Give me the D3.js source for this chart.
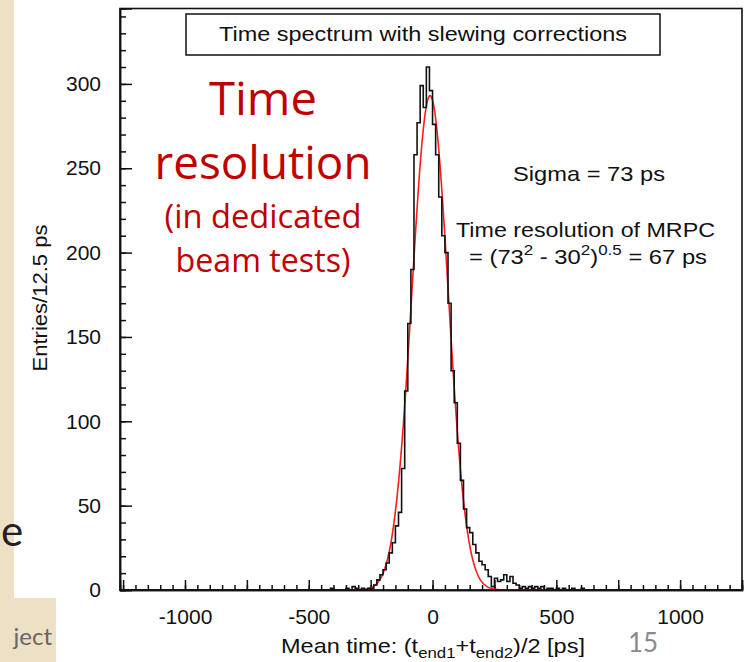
<!DOCTYPE html>
<html lang="en">
<head>
<meta charset="UTF-8">
<title>Time spectrum with slewing corrections</title>
<script src="https://cdn.jsdelivr.net/npm/d3@7"></script>
<style>
  body { margin: 0; background: #fff; }
  svg text { font-family: "Liberation Sans", Arial, sans-serif; fill: #111; }
  .axis path, .axis line { stroke: #111; stroke-width: 1.5; }
  .axis text { font-size: 21px; }
  .red-note { font-family: "Open Sans", sans-serif !important; fill: #c00000 !important; }
</style>
</head>
<body>
<div id="chart"></div>
<script>
var binWidth = 12.5;
var firstEdge = -425;
var counts = [
  0, 1, 0, 0, 0, 0, 1, 0, 2, 1, 0, 1, 0, 1,          // -425 .. -262.5
  1, 3, 6, 9, 12, 16, 22, 28, 38, 46, 72, 118,       // -250 .. -112.5
  158, 190, 258, 277, 299, 286, 310, 296,            // -100 .. -12.5
  276, 258, 233, 210, 200, 170, 130, 111, 87, 65,    // 0 .. 112.5
  48, 37, 34, 27, 22, 17, 15, 12, 8, 2,              // 125 .. 237.5
  7, 5, 6, 9, 5, 8, 4, 3, 1, 2, 1, 2, 1, 2, 1, 2,    // 250 .. 437.5
  0, 1, 1, 0, 1, 0, 1, 0, 0, 1, 0, 0, 1              // 450 .. 600
];

// gaussian fit shown in red
var fitAmp = 293;
var fitMean = -10;
var fitSigma = 73;

var xDomain = [-1262.5, 1250];
var yDomain = [0, 344.7];
var xLabels = [-1000, -500, 0, 500, 1000];
var yLabels = [0, 50, 100, 150, 200, 250, 300];

var W = 744, H = 662;
var margin = {left: 120, top: 8.5, right: 2, bottom: 72};
var width = W - margin.left - margin.right;
var height = H - margin.top - margin.bottom;

var svg = d3.select("#chart").append("svg").attr("width", W).attr("height", H);

// slide background bits that show around the chart picture
var beige = "#eee0c4";
svg.append("rect").attr("x", 0).attr("y", 0).attr("width", 14).attr("height", H).attr("fill", beige);
svg.append("rect").attr("x", 0).attr("y", 598).attr("width", 56).attr("height", 64).attr("fill", beige);
svg.append("text").attr("x", 1).attr("y", 546).style("font-family", "Lato, sans-serif")
  .style("font-size", "42px").style("fill", "#222").text("e");
svg.append("text").attr("x", 52).attr("y", 645).attr("text-anchor", "end")
  .style("font-family", "Lato, sans-serif").style("font-size", "24px").style("fill", "#666").text("ject");

var g = svg.append("g").attr("transform", "translate(" + margin.left + "," + margin.top + ")");

var x = d3.scaleLinear().domain(xDomain).range([0, width]);
var y = d3.scaleLinear().domain(yDomain).range([height, 0]);

svg.append("clipPath").attr("id", "plot").append("rect")
  .attr("width", width).attr("height", height);

// ticks (ROOT style, pointing inwards)
var xMinor = d3.range(-1250, 1251, 50);
var xMajor = d3.range(-1250, 1251, 250);
var yMinor = d3.range(0, 341, 10);
var yMajor = d3.range(0, 341, 50);
var plain = function(d) { return String(d); };

g.append("g").attr("class", "axis").attr("transform", "translate(0," + height + ")")
  .call(d3.axisBottom(x).tickValues(xMinor).tickSize(-5).tickFormat(""));
g.append("g").attr("class", "axis").attr("transform", "translate(0," + height + ")")
  .call(d3.axisBottom(x).tickValues(xMajor).tickSize(-10).tickFormat(""));
g.append("g").attr("class", "axis").attr("transform", "translate(0," + height + ")")
  .call(d3.axisBottom(x).tickValues(xLabels).tickSize(0).tickPadding(19).tickFormat(plain))
  .call(function(a) { a.select(".domain").remove(); });

g.append("g").attr("class", "axis")
  .call(d3.axisLeft(y).tickValues(yMinor).tickSize(-6).tickFormat(""));
g.append("g").attr("class", "axis")
  .call(d3.axisLeft(y).tickValues(yMajor).tickSize(-12).tickFormat(""));
g.append("g").attr("class", "axis")
  .call(d3.axisLeft(y).tickValues(yLabels).tickSize(0).tickPadding(19).tickFormat(plain))
  .call(function(a) { a.select(".domain").remove(); });

// histogram outline, zero outside the listed bins
var pts = [];
var nBins = Math.round((xDomain[1] - xDomain[0]) / binWidth);
for (var i = 0; i <= nBins; i++) {
  var edge = xDomain[0] + i * binWidth;
  var k = Math.round((edge - firstEdge) / binWidth);
  var c = (k >= 0 && k < counts.length) ? counts[k] : 0;
  pts.push([edge, c]);
}
var step = d3.line().curve(d3.curveStepAfter)
  .x(function(d) { return x(d[0]); })
  .y(function(d) { return y(d[1]); });

var fitLine = d3.line()
  .x(function(d) { return x(d); })
  .y(function(d) { return y(fitAmp * Math.exp(-Math.pow(d - fitMean, 2) / (2 * fitSigma * fitSigma))); });

g.append("path").datum(d3.range(xDomain[0], xDomain[1] + 0.1, 2.5))
  .attr("clip-path", "url(#plot)")
  .attr("d", fitLine).attr("fill", "none").attr("stroke", "#ff1a1a").attr("stroke-width", 1.6);

g.append("path").datum(pts)
  .attr("clip-path", "url(#plot)")
  .attr("d", step).attr("fill", "none").attr("stroke", "#111").attr("stroke-width", 1.6);

// frame
g.append("rect").attr("width", width).attr("height", height)
  .attr("fill", "none").attr("stroke", "#111").attr("stroke-width", 1.6);

// title box
svg.append("rect").attr("x", 186).attr("y", 14).attr("width", 474).attr("height", 41)
  .attr("fill", "#fff").attr("stroke", "#111").attr("stroke-width", 1.5);
svg.append("text").attr("x", 423).attr("y", 41).attr("text-anchor", "middle")
  .style("font-size", "20px").attr("textLength", 408).attr("lengthAdjust", "spacingAndGlyphs")
  .text("Time spectrum with slewing corrections");

// fit notes
svg.append("text").attr("x", 589).attr("y", 181).attr("text-anchor", "middle")
  .style("font-size", "21px").attr("textLength", 152).attr("lengthAdjust", "spacingAndGlyphs")
  .text("Sigma = 73 ps");
svg.append("text").attr("x", 585.5).attr("y", 237).attr("text-anchor", "middle")
  .style("font-size", "21px").attr("textLength", 259).attr("lengthAdjust", "spacingAndGlyphs")
  .text("Time resolution of MRPC");
var f = svg.append("text").attr("x", 469).attr("y", 264).style("font-size", "21px")
  .attr("textLength", 238).attr("lengthAdjust", "spacingAndGlyphs");
f.append("tspan").text("= (73");
f.append("tspan").attr("dy", -9).style("font-size", "15px").text("2");
f.append("tspan").attr("dy", 9).text(" - 30");
f.append("tspan").attr("dy", -9).style("font-size", "15px").text("2");
f.append("tspan").attr("dy", 9).text(")");
f.append("tspan").attr("dy", -9).style("font-size", "15px").text("0.5");
f.append("tspan").attr("dy", 9).text(" = 67 ps");

// axis titles
svg.append("text").attr("transform", "translate(47,298) rotate(-90)").attr("text-anchor", "middle")
  .style("font-size", "20px").attr("textLength", 147).attr("lengthAdjust", "spacingAndGlyphs")
  .text("Entries/12.5 ps");
var xt = svg.append("text").attr("x", 281).attr("y", 653).style("font-size", "21px")
  .attr("textLength", 304).attr("lengthAdjust", "spacingAndGlyphs");
xt.append("tspan").text("Mean time: (t");
xt.append("tspan").attr("dy", 5).style("font-size", "15px").text("end1");
xt.append("tspan").attr("dy", -5).text("+t");
xt.append("tspan").attr("dy", 5).style("font-size", "15px").text("end2");
xt.append("tspan").attr("dy", -5).text(")/2 [ps]");

// red slide annotation
var notes = [
  {t: "Time", y: 115, size: 45, len: 108},
  {t: "resolution", y: 179, size: 45, len: 217},
  {t: "(in dedicated", y: 228, size: 32, len: 197},
  {t: "beam tests)", y: 272, size: 32, len: 175}
];
svg.selectAll(".red-note").data(notes).enter().append("text")
  .attr("class", "red-note")
  .attr("x", 263).attr("y", function(d) { return d.y; })
  .attr("text-anchor", "middle")
  .style("font-size", function(d) { return d.size + "px"; })
  .attr("textLength", function(d) { return d.len; })
  .attr("lengthAdjust", "spacingAndGlyphs")
  .text(function(d) { return d.t; });

// slide number, kept just clear of the "1000" tick label
svg.append("text").attr("x", 643).attr("y", 652).attr("text-anchor", "middle")
  .style("font-family", "Lato, sans-serif").style("font-size", "26px").style("fill", "#8a8a8a").text("15");
</script>
</body>
</html>
